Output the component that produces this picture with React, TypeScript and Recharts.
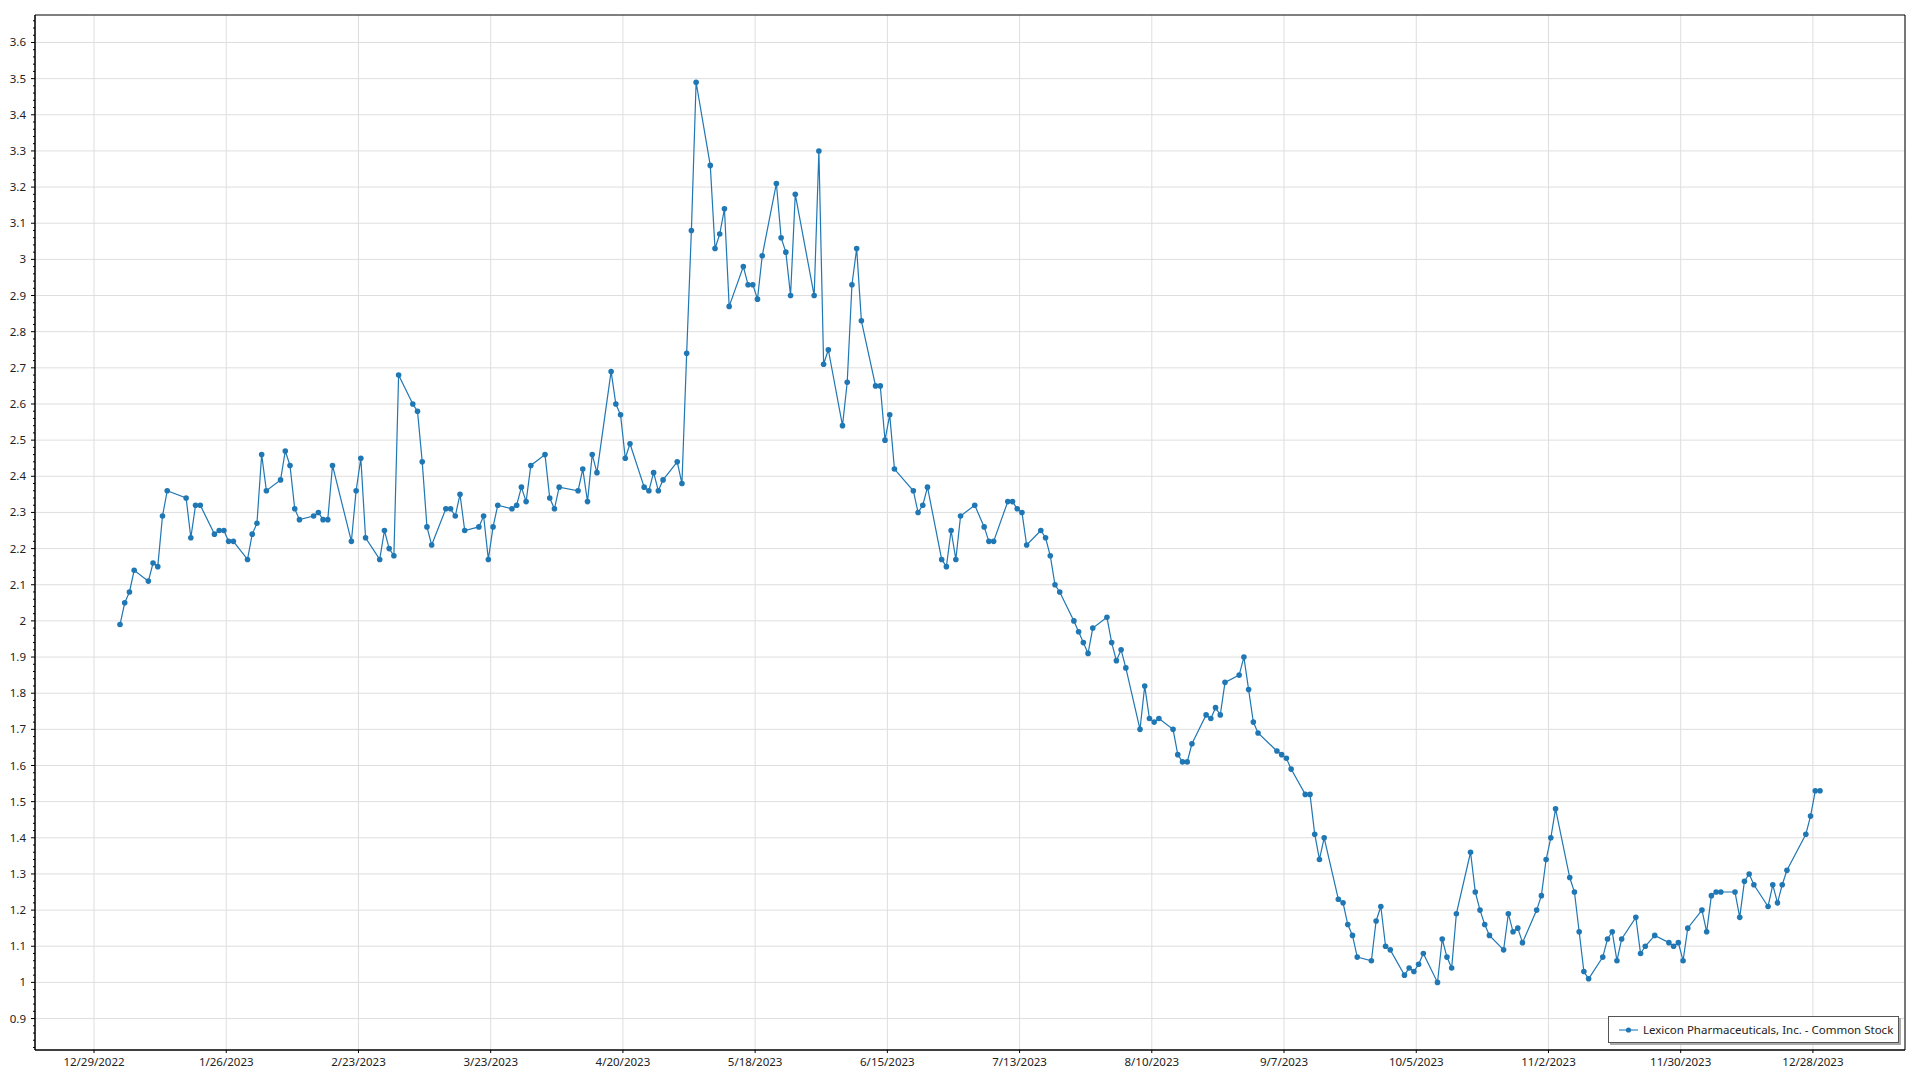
import React from 'react';
import { LineChart, Line, XAxis, YAxis, CartesianGrid, ReferenceArea } from 'recharts';

const SERIES_NAME = 'Lexicon Pharmaceuticals, Inc. - Common Stock';
const LINE_COLOR = '#1f77b4';

// trading days of 2023 (M/D), one month per line
const dates = [
    '1/3', '1/4', '1/5', '1/6', '1/9', '1/10', '1/11', '1/12', '1/13', '1/17', '1/18', '1/19', '1/20', '1/23', '1/24', '1/25', '1/26', '1/27', '1/30', '1/31',
    '2/1', '2/2', '2/3', '2/6', '2/7', '2/8', '2/9', '2/10', '2/13', '2/14', '2/15', '2/16', '2/17', '2/21', '2/22', '2/23', '2/24', '2/27', '2/28',
    '3/1', '3/2', '3/3', '3/6', '3/7', '3/8', '3/9', '3/10', '3/13', '3/14', '3/15', '3/16', '3/17', '3/20', '3/21', '3/22', '3/23', '3/24', '3/27', '3/28', '3/29', '3/30', '3/31',
    '4/3', '4/4', '4/5', '4/6', '4/10', '4/11', '4/12', '4/13', '4/14', '4/17', '4/18', '4/19', '4/20', '4/21', '4/24', '4/25', '4/26', '4/27', '4/28',
    '5/1', '5/2', '5/3', '5/4', '5/5', '5/8', '5/9', '5/10', '5/11', '5/12', '5/15', '5/16', '5/17', '5/18', '5/19', '5/22', '5/23', '5/24', '5/25', '5/26', '5/30', '5/31',
    '6/1', '6/2', '6/5', '6/6', '6/7', '6/8', '6/9', '6/12', '6/13', '6/14', '6/15', '6/16', '6/20', '6/21', '6/22', '6/23', '6/26', '6/27', '6/28', '6/29', '6/30',
    '7/3', '7/5', '7/6', '7/7', '7/10', '7/11', '7/12', '7/13', '7/14', '7/17', '7/18', '7/19', '7/20', '7/21', '7/24', '7/25', '7/26', '7/27', '7/28', '7/31',
    '8/1', '8/2', '8/3', '8/4', '8/7', '8/8', '8/9', '8/10', '8/11', '8/14', '8/15', '8/16', '8/17', '8/18', '8/21', '8/22', '8/23', '8/24', '8/25', '8/28', '8/29', '8/30', '8/31',
    '9/1', '9/5', '9/6', '9/7', '9/8', '9/11', '9/12', '9/13', '9/14', '9/15', '9/18', '9/19', '9/20', '9/21', '9/22', '9/25', '9/26', '9/27', '9/28', '9/29',
    '10/2', '10/3', '10/4', '10/5', '10/6', '10/9', '10/10', '10/11', '10/12', '10/13', '10/16', '10/17', '10/18', '10/19', '10/20', '10/23', '10/24', '10/25', '10/26', '10/27', '10/30', '10/31',
    '11/1', '11/2', '11/3', '11/6', '11/7', '11/8', '11/9', '11/10', '11/13', '11/14', '11/15', '11/16', '11/17', '11/20', '11/21', '11/22', '11/24', '11/27', '11/28', '11/29', '11/30',
    '12/1', '12/4', '12/5', '12/6', '12/7', '12/8', '12/11', '12/12', '12/13', '12/14', '12/15', '12/18', '12/19', '12/20', '12/21', '12/22', '12/26', '12/27', '12/28', '12/29',
];

// closing price, same order as dates
const close = [
    1.99, 2.05, 2.08, 2.14, 2.11, 2.16, 2.15, 2.29, 2.36, 2.34, 2.23, 2.32, 2.32, 2.24, 2.25, 2.25, 2.22, 2.22, 2.17, 2.24,
    2.27, 2.46, 2.36, 2.39, 2.47, 2.43, 2.31, 2.28, 2.29, 2.30, 2.28, 2.28, 2.43, 2.22, 2.36, 2.45, 2.23, 2.17, 2.25,
    2.20, 2.18, 2.68, 2.60, 2.58, 2.44, 2.26, 2.21, 2.31, 2.31, 2.29, 2.35, 2.25, 2.26, 2.29, 2.17, 2.26, 2.32, 2.31, 2.32, 2.37, 2.33, 2.43,
    2.46, 2.34, 2.31, 2.37, 2.36, 2.42, 2.33, 2.46, 2.41, 2.69, 2.60, 2.57, 2.45, 2.49, 2.37, 2.36, 2.41, 2.36, 2.39,
    2.44, 2.38, 2.74, 3.08, 3.49, 3.26, 3.03, 3.07, 3.14, 2.87, 2.98, 2.93, 2.93, 2.89, 3.01, 3.21, 3.06, 3.02, 2.90, 3.18, 2.90, 3.30,
    2.71, 2.75, 2.54, 2.66, 2.93, 3.03, 2.83, 2.65, 2.65, 2.50, 2.57, 2.42, 2.36, 2.30, 2.32, 2.37, 2.17, 2.15, 2.25, 2.17, 2.29,
    2.32, 2.26, 2.22, 2.22, 2.33, 2.33, 2.31, 2.30, 2.21, 2.25, 2.23, 2.18, 2.10, 2.08, 2.00, 1.97, 1.94, 1.91, 1.98, 2.01,
    1.94, 1.89, 1.92, 1.87, 1.70, 1.82, 1.73, 1.72, 1.73, 1.70, 1.63, 1.61, 1.61, 1.66, 1.74, 1.73, 1.76, 1.74, 1.83, 1.85, 1.90, 1.81, 1.72,
    1.69, 1.64, 1.63, 1.62, 1.59, 1.52, 1.52, 1.41, 1.34, 1.40, 1.23, 1.22, 1.16, 1.13, 1.07, 1.06, 1.17, 1.21, 1.10, 1.09,
    1.02, 1.04, 1.03, 1.05, 1.08, 1.00, 1.12, 1.07, 1.04, 1.19, 1.36, 1.25, 1.20, 1.16, 1.13, 1.09, 1.19, 1.14, 1.15, 1.11, 1.20, 1.24,
    1.34, 1.40, 1.48, 1.29, 1.25, 1.14, 1.03, 1.01, 1.07, 1.12, 1.14, 1.06, 1.12, 1.18, 1.08, 1.10, 1.13, 1.11, 1.10, 1.11, 1.06,
    1.15, 1.20, 1.14, 1.24, 1.25, 1.25, 1.25, 1.18, 1.28, 1.30, 1.27, 1.21, 1.27, 1.22, 1.27, 1.31, 1.41, 1.46, 1.53, 1.53,
];

const xTickLabels = [
    '12/29/2022', '1/26/2023', '2/23/2023', '3/23/2023', '4/20/2023', '5/18/2023', '6/15/2023',
    '7/13/2023', '8/10/2023', '9/7/2023', '10/5/2023', '11/2/2023', '11/30/2023', '12/28/2023',
];

const yTicks = [
    0.9, 1, 1.1, 1.2, 1.3, 1.4, 1.5, 1.6, 1.7, 1.8, 1.9, 2, 2.1, 2.2, 2.3, 2.4, 2.5,
    2.6, 2.7, 2.8, 2.9, 3, 3.1, 3.2, 3.3, 3.4, 3.5, 3.6,
];

const X_RANGE = ['12/16/2022', '1/16/2024'];
const Y_DOMAIN: [number, number] = [0.813, 3.676];

const DAY_MS = 86400000;
const toDay = (s: string) => {
    const [m, d, y] = s.split('/').map(Number);
    return Date.UTC(y, m - 1, d) / DAY_MS;
};

// points sit at midday of each trading date
const chartData = dates.map((d, i) => ({ x: toDay(d + '/2023') + 0.5, close: close[i] }));
const xTicks = xTickLabels.map(toDay);
const xDomain: [number, number] = [toDay(X_RANGE[0]) + 0.5, toDay(X_RANGE[1]) + 0.5];

// small ticks every 0.02 along the value axis
const minorTicks: number[] = [];
for (let i = 41; i <= 183; i++) minorTicks.push(Math.round(i * 2) / 100);

const FONT = '"Segoe UI", "Noto Sans", sans-serif';
const TEXT_COLOR = '#222';

const YTick = (props: any) => {
    const { x, y, payload } = props;
    const v = payload.value as number;
    const major = yTicks.some(t => Math.abs(t - v) < 1e-6);
    return (
        <g>
            <line x1={x - (major ? 4 : 2)} x2={x} y1={y} y2={y} stroke="#000" strokeWidth={1} />
            {major && (
                <text x={x - 9} y={y} dy="0.35em" textAnchor="end" fontSize={11.5} fontFamily={FONT} fill={TEXT_COLOR}>
                    {String(v)}
                </text>
            )}
        </g>
    );
};

const App: React.FC = () => {
    return (
        <div style={{ position: 'absolute', left: 0, top: 0, width: 1920, height: 1080, background: '#fff', fontFamily: FONT }}>
            <LineChart width={1920} height={1080} data={chartData} margin={{ top: 15, right: 15, bottom: 0, left: 0 }}>
                <CartesianGrid stroke="#dedede" strokeWidth={1} horizontalValues={yTicks} />
                <XAxis
                    dataKey="x"
                    type="number"
                    domain={xDomain}
                    allowDataOverflow
                    ticks={xTicks}
                    interval={0}
                    height={30}
                    tickSize={3}
                    tickMargin={5}
                    tickFormatter={(v: number) => xTickLabels[xTicks.indexOf(v)] ?? ''}
                    axisLine={{ stroke: '#000' }}
                    tickLine={{ stroke: '#000' }}
                    tick={{ fontSize: 11.5, fontFamily: FONT, fill: TEXT_COLOR }}
                />
                <YAxis
                    type="number"
                    domain={Y_DOMAIN}
                    allowDataOverflow
                    ticks={minorTicks}
                    interval={0}
                    width={35}
                    tickSize={0}
                    tickMargin={0}
                    tickLine={false}
                    axisLine={{ stroke: '#000' }}
                    tick={<YTick />}
                />
                <ReferenceArea x1={xDomain[0]} x2={xDomain[1]} y1={Y_DOMAIN[0]} y2={Y_DOMAIN[1]} fill="none" stroke="#000" strokeWidth={1} fillOpacity={0} />
                <Line
                    type="linear"
                    dataKey="close"
                    name={SERIES_NAME}
                    stroke={LINE_COLOR}
                    strokeWidth={1.2}
                    dot={{ r: 2.8, fill: LINE_COLOR, stroke: LINE_COLOR, strokeWidth: 0 }}
                    activeDot={false}
                    isAnimationActive={false}
                />
            </LineChart>
            <div
                style={{
                    position: 'absolute',
                    left: 1608,
                    top: 1016,
                    width: 289,
                    height: 25,
                    border: '1px solid #555',
                    background: '#fff',
                    boxShadow: '2px 2px 0 #aaa',
                    display: 'flex',
                    alignItems: 'center',
                    fontSize: 11.5,
                    color: TEXT_COLOR,
                }}
            >
                <svg width={34} height={25} style={{ flex: 'none' }}>
                    <line x1={10} x2={29} y1={13} y2={13} stroke="#5a9fd4" strokeWidth={1.5} />
                    <circle cx={19.5} cy={13} r={2.6} fill={LINE_COLOR} />
                </svg>
                <span style={{ whiteSpace: 'nowrap' }}>{SERIES_NAME}</span>
            </div>
        </div>
    );
};

export default App;
